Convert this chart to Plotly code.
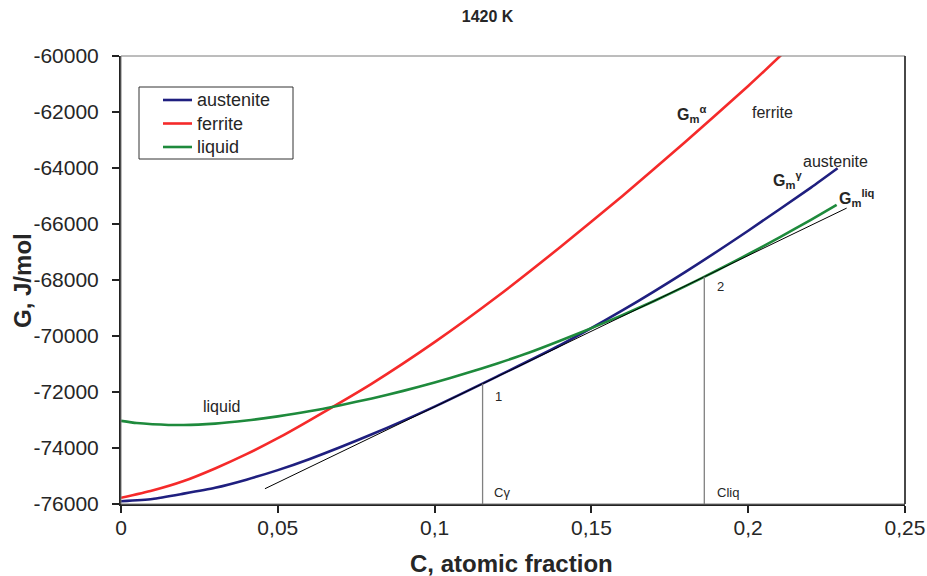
import plotly.graph_objects as go

# ---------------- data ----------------
aust_x = [0, 0.01, 0.02, 0.03, 0.04, 0.05, 0.06, 0.08, 0.10, 0.12, 0.14, 0.16, 0.18, 0.20, 0.22, 0.2285]
aust_g = [-75900, -75820, -75630, -75420, -75130, -74790, -74400, -73510, -72520, -71440,
          -70330, -69080, -67710, -66240, -64700, -64010]

ferr_x = [0, 0.01, 0.02, 0.03, 0.04, 0.05, 0.06, 0.08, 0.10, 0.12, 0.14, 0.16, 0.18, 0.20, 0.21, 0.215]
ferr_g = [-75780, -75520, -75180, -74730, -74220, -73650, -73020, -71700, -70220, -68590,
          -66830, -64990, -63060, -61070, -60020, -59480]

liq_x = [0, 0.005, 0.01, 0.02, 0.03, 0.04, 0.05, 0.06, 0.07, 0.08, 0.09, 0.10, 0.11, 0.12,
         0.13, 0.14, 0.15, 0.16, 0.17, 0.18, 0.19, 0.20, 0.21, 0.22, 0.2282]
liq_g = [-73030, -73110, -73150, -73180, -73130, -73020, -72870, -72690, -72470, -72230,
         -71960, -71660, -71330, -70980, -70600, -70170, -69720, -69250, -68750, -68220,
         -67660, -67080, -66475, -65850, -65320]

series_names = ["austenite", "ferrite", "liquid"]
series_colors = ["#1f1f7f", "#f52a2a", "#1e8a3c"]

# tangency points (1: austenite, 2: liquid)
c_gamma, g_point1 = 0.1153, -71705
c_liq, g_point2 = 0.186, -67885
tangent_x = [0.0459, 0.2314]

x_ticks = [0, 0.05, 0.10, 0.15, 0.20, 0.25]
x_ticklabels = ["0", "0,05", "0,1", "0,15", "0,2", "0,25"]
y_ticks = [-60000, -62000, -64000, -66000, -68000, -70000, -72000, -74000, -76000]
y_ticklabels = ["-60000", "-62000", "-64000", "-66000", "-68000", "-70000", "-72000", "-74000", "-76000"]

y_min, y_max = -76000, -60000
x_min, x_max = 0, 0.25

# ---------------- figure ----------------
FONT = "Liberation Sans, Arial, sans-serif"
TXT = "#262626"
slope = (g_point2 - g_point1) / (c_liq - c_gamma)
tangent_g = [g_point1 + slope * (x - c_gamma) for x in tangent_x]

fig = go.Figure()
for xs, gs, nm, col in zip([aust_x, ferr_x, liq_x], [aust_g, ferr_g, liq_g], series_names, series_colors):
    fig.add_trace(go.Scatter(x=xs, y=gs, mode="lines", name=nm, showlegend=False,
                             line=dict(color=col, width=2.6, shape="spline", smoothing=0.6)))
fig.add_trace(go.Scatter(x=tangent_x, y=tangent_g, mode="lines", showlegend=False,
                         line=dict(color="black", width=1)))
fig.add_trace(go.Scatter(x=[c_gamma, c_gamma], y=[g_point1, y_min], mode="lines", showlegend=False,
                         line=dict(color="#808080", width=1.3)))
fig.add_trace(go.Scatter(x=[c_liq, c_liq], y=[g_point2, y_min], mode="lines", showlegend=False,
                         line=dict(color="#808080", width=1.3)))

ann = []
def txt(x, y, t, size=16, xanchor="left", yanchor="middle", xref="x", yref="y", **kw):
    ann.append(dict(x=x, y=y, text=t, xref=xref, yref=yref, showarrow=False,
                    xanchor=xanchor, yanchor=yanchor,
                    font=dict(family=FONT, size=size, color=TXT), **kw))

txt(c_gamma + 0.0033, -72160, "1", size=13)
txt(c_liq + 0.0034, -68240, "2", size=13)
txt(c_gamma + 0.0029, -75600, "Cγ", size=13)
txt(c_liq + 0.0034, -75600, "Cliq", size=13)
txt(0.0321, -72535, "liquid", xanchor="center")
txt(0.2077, -62000, "ferrite", xanchor="center")
txt(0.2279, -63768, "austenite", xanchor="center")
txt(0.1767, -62070, "<b>G<sub>m</sub><sup>α</sup></b>", size=16)
txt(0.2074, -64420, "<b>G<sub>m</sub><sup>γ</sup></b>", size=16)
txt(0.2282, -65070, "<b>G<sub>m</sub><sup>liq</sup></b>", size=16)
# axis titles
txt(0.4987, -0.1317, "<b>C, atomic fraction</b>", size=24, xanchor="center", xref="paper", yref="paper")
txt(-0.1263, 0.5, "<b>G, J/mol</b>", size=24, xanchor="center", xref="paper", yref="paper", textangle=-90)

# legend (drawn in paper coordinates)
PLOT_L, PLOT_R, PLOT_T, PLOT_B = 121, 905, 56, 504
def px(v):
    return (v - PLOT_L) / (PLOT_R - PLOT_L)
def py(v):
    return (PLOT_B - v) / (PLOT_B - PLOT_T)

shapes = [dict(type="rect", xref="paper", yref="paper", x0=0, y0=0, x1=1, y1=1,
               line=dict(color="#7a7a7a", width=1), layer="above"),
          dict(type="line", xref="paper", yref="paper", x0=1, y0=0, x1=1, y1=1,
               line=dict(color="#222222", width=1.5), layer="above"),
          dict(type="rect", xref="paper", yref="paper", x0=px(139), y0=py(159), x1=px(293), y1=py(87),
               line=dict(color="#333333", width=1), fillcolor="white", layer="above")]
for i, (nm, col) in enumerate(zip(series_names, series_colors)):
    yy = 100 + i * 23.5
    shapes.append(dict(type="line", xref="paper", yref="paper", x0=px(163), x1=px(192),
                       y0=py(yy), y1=py(yy), line=dict(color=col, width=2.6), layer="above"))
    txt(px(195), py(yy), nm, size=18, xref="paper", yref="paper")

fig.update_layout(
    width=927, height=576,
    margin=dict(l=PLOT_L, r=927 - PLOT_R, t=PLOT_T, b=576 - PLOT_B, pad=0, autoexpand=False),
    paper_bgcolor="white", plot_bgcolor="white",
    font=dict(family=FONT, color=TXT),
    title=dict(text="<b>1420 K</b>", x=0.526, xref="container", xanchor="center",
               y=1 - 16 / 576, yref="container", yanchor="middle",
               font=dict(family=FONT, size=16, color=TXT)),
    annotations=ann,
    showlegend=False,
    shapes=shapes,
)
fig.update_xaxes(range=[x_min, x_max], tickvals=x_ticks, ticktext=x_ticklabels, automargin=False,
                 showgrid=False, zeroline=False, showline=True, linecolor="#222222", linewidth=2,
                 ticks="outside", ticklen=7, tickwidth=1.5, tickcolor="#222222",
                 tickfont=dict(family=FONT, size=21, color=TXT), ticklabelstandoff=-3)
fig.update_yaxes(range=[y_min, y_max], tickvals=y_ticks, ticktext=y_ticklabels, automargin=False,
                 showgrid=False, zeroline=False, showline=True, linecolor="#222222", linewidth=2,
                 ticks="outside", ticklen=7, tickwidth=1.5, tickcolor="#222222",
                 tickfont=dict(family=FONT, size=21, color=TXT), ticklabelstandoff=9)

fig.write_html("out.html")
